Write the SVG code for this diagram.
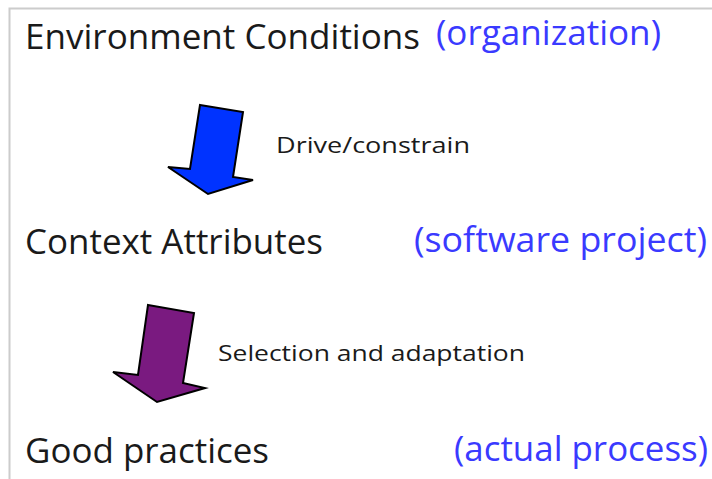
<svg xmlns="http://www.w3.org/2000/svg" width="712" height="479" viewBox="0 0 712 479">
  <style>
    .big { font-family: "Open Sans", "Noto Sans", sans-serif; font-size: 35px; fill: #1a1a1a; }
    .note { font-family: "Open Sans", "Noto Sans", sans-serif; font-size: 35px; fill: #3a3aff; }
    .lbl { font-family: "Open Sans", "Noto Sans", sans-serif; font-size: 21px; fill: #1a1a1a; }
    .arrow { stroke: #000; stroke-width: 2; stroke-linejoin: miter; }
  </style>
  <rect width="712" height="479" fill="#fff"/>
  <!-- frame edge -->
  <path d="M9.5 479 V8.5 H712" fill="none" stroke="#cccccc" stroke-width="2"/>

  <g id="environment">
    <text class="big" x="25" y="49" textLength="395" lengthAdjust="spacingAndGlyphs">Environment Conditions</text>
    <text class="note" x="436" y="45" textLength="225" lengthAdjust="spacingAndGlyphs">(organization)</text>
  </g>

  <g id="context">
    <text class="big" x="25" y="254" textLength="298" lengthAdjust="spacingAndGlyphs">Context Attributes</text>
    <text class="note" x="414" y="252" textLength="293" lengthAdjust="spacingAndGlyphs">(software  project)</text>
  </g>

  <g id="practices">
    <text class="big" x="25" y="463" textLength="244" lengthAdjust="spacingAndGlyphs">Good practices</text>
    <text class="note" x="454" y="461" textLength="254" lengthAdjust="spacingAndGlyphs">(actual process)</text>
  </g>

  <g id="connectors">
    <g id="drive">
      <polygon class="arrow" fill="#0033ff" points="200,105 243,112 233,177 253,180 208,194 168,167 190,169"/>
      <text class="lbl" x="276" y="153" textLength="194" lengthAdjust="spacingAndGlyphs">Drive/constrain</text>
    </g>
    <g id="select">
      <polygon class="arrow" fill="#7a1a80" points="148,305 194,313 183,383 205,388 157,402 113,372 138,375"/>
      <text class="lbl" x="218" y="361" textLength="307" lengthAdjust="spacingAndGlyphs">Selection and adaptation</text>
    </g>
  </g>
</svg>
